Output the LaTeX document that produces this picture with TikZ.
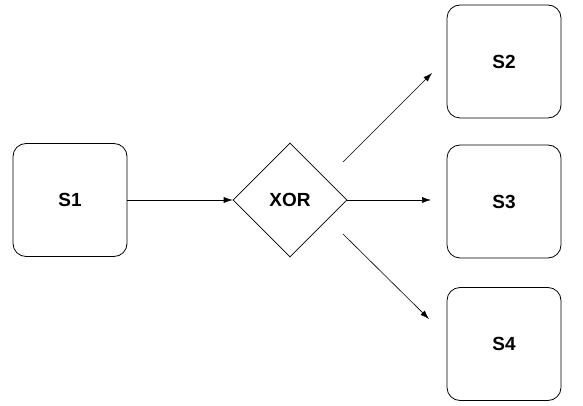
\documentclass[tikz,border=0pt]{standalone}
\usepackage{fontspec}
\setmainfont{Liberation Sans}
\usetikzlibrary{shapes.geometric,arrows.meta}
\begin{document}
\begin{tikzpicture}[x=1pt,y=-1pt,
  statebox/.style={draw,line width=0.8pt,rounded corners=13pt,minimum width=114pt,minimum height=113pt,inner sep=0pt,font=\fontsize{19}{22}\selectfont\bfseries},
  gate/.style={draw,line width=0.6pt,diamond,minimum width=114pt,minimum height=114pt,inner sep=0pt,font=\fontsize{19}{22}\selectfont\bfseries},
  conn/.style={line width=0.6pt,-{Latex[length=9pt,width=6pt]}}
]
\useasboundingbox (0,0) rectangle (583,406);
\fill[white] (0,0) rectangle (583,406);
\node[statebox] (s1) at (70,200) {S1};
\node[statebox] (s2) at (504,61.5) {S2};
\node[statebox] (s3) at (504,201.5) {S3};
\node[statebox] (s4) at (504,344) {S4};
\node[gate] (x) at (290,200) {XOR};
\coordinate (e2a) at (343,162);
\coordinate (e2b) at (432,73);
\coordinate (e3b) at (431,200);
\coordinate (e4a) at (343,234);
\coordinate (e4b) at (429,319);
\draw[conn] (s1.east) -- (x.west);
\draw[conn] (x.east) -- (e3b);
\draw[conn] (e2a) -- (e2b);
\draw[conn] (e4a) -- (e4b);
\end{tikzpicture}
\end{document}
